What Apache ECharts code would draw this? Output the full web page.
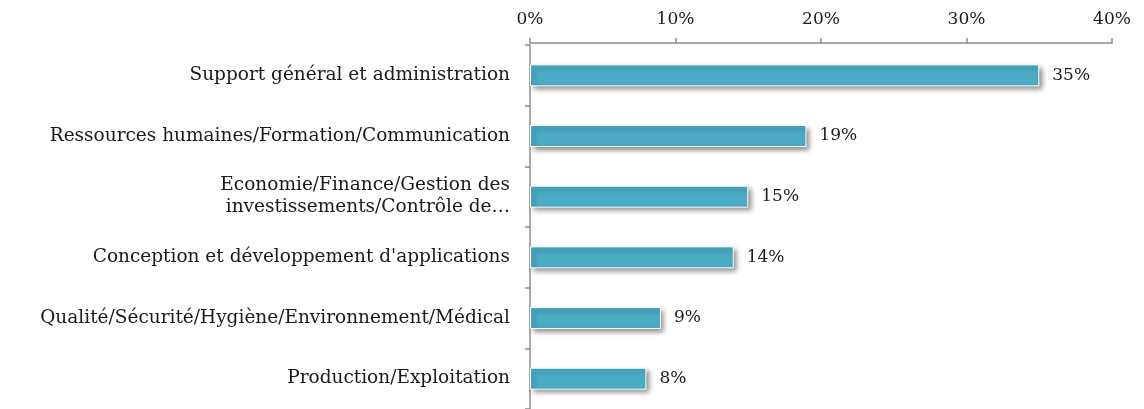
<!DOCTYPE html>
<html>
<head>
<meta charset="utf-8">
<script src="https://cdn.jsdelivr.net/npm/echarts@6/dist/echarts.min.js"></script>
<style>
  html, body { margin: 0; padding: 0; background: #fff; }
  #chart { width: 1144px; height: 409px; }
</style>
</head>
<body>
<div id="chart"></div>
<script>
// catégories, de haut en bas
const categories = [
  "Support général et administration",
  "Ressources humaines/Formation/Communication",
  "Economie/Finance/Gestion des\ninvestissements/Contrôle de…",
  "Conception et développement d'applications",
  "Qualité/Sécurité/Hygiène/Environnement/Médical",
  "Production/Exploitation"
];
const values = [35, 19, 15, 14, 9, 8]; // en %
const axisMax = 40;
const axisStep = 10;

const font = "'Palatino Linotype', Palatino, 'DejaVu Serif', serif";
const textColor = "#1a1a1a";
const axisColor = "#8c8c8c";

const myChart = echarts.init(document.getElementById("chart"));
myChart.setOption({
  animation: false,
  grid: { left: 530, right: 32, top: 45, bottom: -2 },
  xAxis: {
    type: "value",
    position: "top",
    min: 0,
    max: axisMax,
    interval: axisStep,
    offset: 2,
    axisLine: { show: true, lineStyle: { color: axisColor, width: 1.5 } },
    axisTick: { show: true, length: 5, lineStyle: { color: axisColor, width: 1.5 } },
    splitLine: { show: false },
    axisLabel: {
      margin: 15,
      formatter: "{value}%",
      color: textColor,
      fontFamily: font,
      fontSize: 17
    }
  },
  yAxis: {
    type: "category",
    data: categories,
    inverse: true,
    axisLine: { lineStyle: { color: axisColor, width: 1.5 } },
    axisTick: { show: true, length: 5, lineStyle: { color: axisColor, width: 1.5 } },
    axisLabel: {
      margin: 20,
      color: textColor,
      fontFamily: font,
      fontSize: 18.5,
      lineHeight: 22
    }
  },
  series: [
    {
      type: "bar",
      data: values,
      barWidth: 22,
      itemStyle: {
        color: "#4bacc6",
        borderColor: "#ffffff",
        borderWidth: 1,
        shadowColor: "rgba(0,0,0,0.45)",
        shadowBlur: 5,
        shadowOffsetX: 3,
        shadowOffsetY: 3
      },
      label: {
        show: true,
        position: "right",
        distance: 13,
        formatter: "{c}%",
        color: textColor,
        fontFamily: font,
        fontSize: 17
      }
    }
  ]
});
window.addEventListener("resize", () => {
  myChart.resize();
});
</script>
</body>
</html>
